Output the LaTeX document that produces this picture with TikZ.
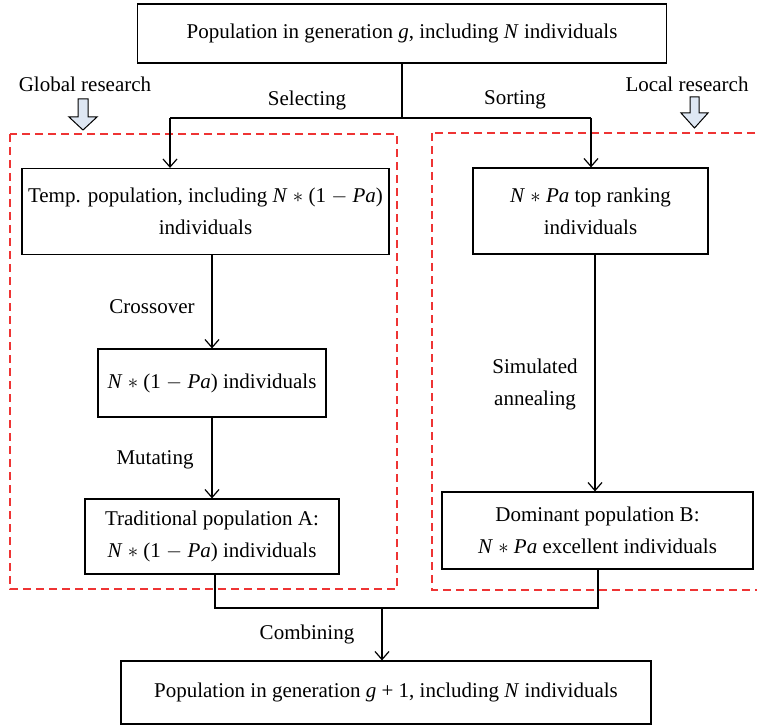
\documentclass[tikz,border=0pt]{standalone}
\usepackage{fontspec}
\setmainfont{Liberation Serif}
\usetikzlibrary{arrows.meta}
\definecolor{regred}{RGB}{238,52,52}
\definecolor{hollowfill}{RGB}{222,231,243}
\begin{document}
\begin{tikzpicture}[x=1pt,y=-1pt,
  box/.style={draw, line width=1.2pt, align=center, inner sep=0pt, font=\fontsize{21}{32}\selectfont},
  lbl/.style={font=\fontsize{21}{32}\selectfont, inner sep=0pt, align=center},
  conn/.style={line width=1.2pt},
  arr/.style={conn, -{Straight Barb[length=8pt,width=14pt,line width=1.2pt]}},
  region/.style={draw=regred, line width=1.5pt, dash pattern=on 8pt off 5pt},
  hollow/.style={draw, line width=1pt, fill=hollowfill, line join=miter}
]
\useasboundingbox (0,0) rectangle (757,727);

% dashed regions
\draw[region] (10,134) rectangle (397,589);
\begin{scope}
  \clip (0,0) rectangle (757,727);
  \draw[region] (432,133) rectangle (780,590);
\end{scope}

% boxes
\node[box, minimum width=529pt, minimum height=59pt] (top) at (402,33.5)
  {Population in generation \textit{g}, including \textit{N} individuals};
\node[box, minimum width=367pt, minimum height=86pt] (temp) at (205.5,211.5)
  {Temp. population, including \textit{N} $\ast$ (1 $-$ \textit{Pa})\\individuals};
\node[box, minimum width=228pt, minimum height=68pt] (mid) at (212,383)
  {\textit{N} $\ast$ (1 $-$ \textit{Pa}) individuals};
\node[box, minimum width=254pt, minimum height=75pt] (trad) at (212,536.5)
  {Traditional population A:\\\textit{N} $\ast$ (1 $-$ \textit{Pa}) individuals};
\node[box, minimum width=235pt, minimum height=86pt] (npa) at (590.5,211)
  {\textit{N} $\ast$ \textit{Pa} top ranking\\individuals};
\node[box, minimum width=311pt, minimum height=77pt] (dom) at (597.5,530.5)
  {Dominant population B:\\\textit{N} $\ast$ \textit{Pa} excellent individuals};
\node[box, minimum width=530pt, minimum height=63pt] (bot) at (386,692.5)
  {Population in generation \textit{g} + 1, including \textit{N} individuals};

% connectors
\coordinate (split) at (402,118);
\coordinate (sl) at (170,118);
\coordinate (sr) at (591,118);
\draw[conn] (top.south) -- (split);
\draw[conn] (sl) -- (sr);
\draw[arr] (sl) -- (sl |- temp.north);
\draw[arr] (sr) -- (sr |- npa.north);
\draw[arr] (mid.north |- temp.south) -- (mid.north);
\draw[arr] (mid.south) -- (trad.north);
\coordinate (rx) at (595,0);
\draw[arr] (rx |- npa.south) -- (rx |- dom.north);
\coordinate (jl) at (215,608);
\coordinate (jr) at (598,608);
\coordinate (jm) at (382,608);
\draw[conn] (jl |- trad.south) -- (jl) -- (jr) -- (jr |- dom.south);
\draw[arr] (jm) -- (jm |- bot.north);

% labels
\node[lbl] (selecting) at (307,100) {Selecting};
\node[lbl] (sorting) at (515,100) {Sorting};
\node[lbl] (crossover) at (152,307) {Crossover};
\node[lbl] (mutating) at (155,460) {Mutating};
\node[lbl] (sa) at (535,384) {Simulated\\annealing};
\node[lbl] (combining) at (307,634) {Combining};
\node[lbl] (global) at (85,84) {Global research};
\node[lbl] (local) at (687,84) {Local research};

% hollow arrows
\draw[hollow] (78,99) -- (88,99) -- (88,117) -- (97,117) -- (83,130) -- (69,117) -- (78,117) -- cycle;
\draw[hollow] (690,97) -- (699,97) -- (699,113) -- (708,113) -- (694.5,128) -- (681,113) -- (690,113) -- cycle;
\end{tikzpicture}
\end{document}
